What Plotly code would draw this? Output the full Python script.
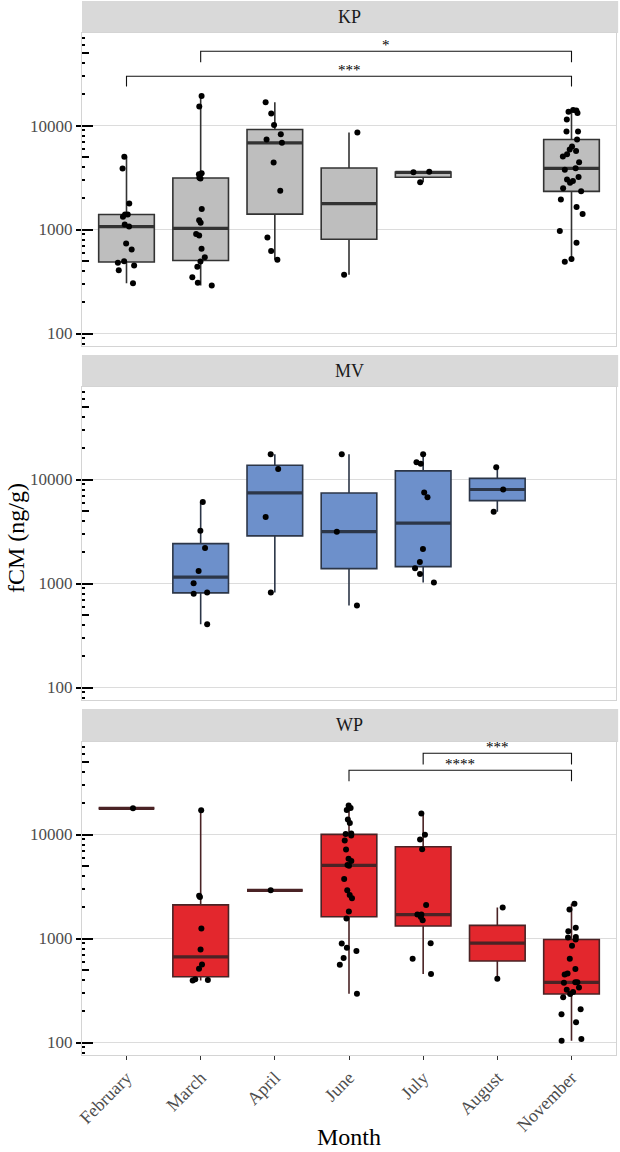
import numpy as np
import plotly.graph_objects as go

months = ["February", "March", "April", "June", "July", "August", "November"]
sites = ["KP", "MV", "WP"]

# ---- fCM (ng/g) values ----
kp_february = [5000, 3860, 1778, 1393, 1393, 1324, 1068, 1117, 733, 642, 495, 478, 451, 406, 305]
kp_march = [19300, 15250, 3475, 3400, 3140, 3100, 1580, 1230, 1160, 908, 875, 652, 542, 492, 438, 348, 308, 290]
kp_april = [16740, 13030, 10150, 8260, 7340, 6820, 4420, 2365, 838, 620, 512]
kp_june = [8580, 367]
kp_july = [3600, 3550, 2850]
kp_november = [14130, 13930, 13600, 13220, 11430, 8760, 8760, 7350, 6290, 5890, 5680, 5300, 5050, 4450,
               3875, 3760, 3200, 3035, 2925, 2820, 2500, 2330, 1940, 1650, 1413, 970, 745, 520, 490]

mv_march = [6070, 3220, 2198, 1322, 1007, 820, 796, 407]
mv_april = [17500, 12660, 4360, 820]
mv_june = [17500, 3150, 615]
mv_july = [17500, 14660, 14220, 7500, 6770, 2148, 1614, 1403, 1238, 1023]
mv_august = [13130, 8020, 4890]

wp_february = [17870]
wp_march = [17100, 2580, 2505, 1247, 785, 564, 512, 405, 400, 395]
wp_april = [2905]
wp_june = [18970, 18020, 17230, 13930, 12940, 10230, 10100, 9800, 8750, 7180, 5840, 5550, 5080, 5010,
           3735, 2905, 2623, 2440, 1816, 1560, 895, 814, 757, 649, 560, 295]
wp_july = [15900, 9930, 8960, 7220, 2103, 1699, 1699, 1613, 1500, 902, 638, 455]
wp_august = [1982, 410]
wp_november = [2163, 1896, 1266, 1175, 1037, 1022, 978, 851, 638, 508, 462, 452, 379, 379, 375, 339,
               322, 306, 293, 272, 209, 187, 157, 108, 104]

# significance brackets: (left month, right month, label, bar height, tip height)
kp_brackets = [("March", "November", "*", 51800, 40600),
               ("February", "November", "***", 29800, 23700)]
wp_brackets = [("July", "November", "***", 60500, 47100),
               ("June", "November", "****", 41500, 32500)]

groups = {
    "KP": {"February": kp_february, "March": kp_march, "April": kp_april, "June": kp_june,
           "July": kp_july, "November": kp_november},
    "MV": {"March": mv_march, "April": mv_april, "June": mv_june, "July": mv_july, "August": mv_august},
    "WP": {"February": wp_february, "March": wp_march, "April": wp_april, "June": wp_june,
           "July": wp_july, "August": wp_august, "November": wp_november},
}
brackets = {"KP": kp_brackets, "MV": [], "WP": wp_brackets}

fills = {"KP": "#BEBEBE", "MV": "#6D90CB", "WP": "#E3272D"}
edges = {"KP": "#333333", "MV": "#2C3648", "WP": "#4A2325"}

FONT = "Liberation Serif"
YR = [1.88, 4.89]
dom = {1: [0.6727, 0.9696], 2: [0.3368, 0.6338], 3: [0.0, 0.2970]}
strip = {1: [0.9696, 1.0], 2: [0.6338, 0.6641], 3: [0.2970, 0.3283]}
major_vals = [10, 100, 1000, 10000, 100000]
mid_vals = [5 * 10 ** e for e in range(1, 5)]
minor_vals = [k * 10 ** e for e in range(1, 5) for k in (2, 3, 4, 6, 7, 8, 9)]


def stats(vals):
    lv = np.log10(np.asarray(vals, dtype=float))
    q1, med, q3 = np.quantile(lv, [0.25, 0.5, 0.75])
    iqr = q3 - q1
    lo = lv[lv >= q1 - 1.5 * iqr].min()
    hi = lv[lv <= q3 + 1.5 * iqr].max()
    return [10 ** v for v in (q1, med, q3, lo, hi)]


fig = go.Figure()
layout = dict(width=620, height=1152, margin=dict(l=82, r=4, t=1, b=97),
              paper_bgcolor="white", plot_bgcolor="white", boxmode="overlay",
              showlegend=False, font=dict(family=FONT), shapes=[], annotations=[])

for r, site in enumerate(sites, start=1):
    xr = "x" if r == 1 else f"x{r}"
    yr = "y" if r == 1 else f"y{r}"
    yo = f"y{r + 3}"
    g = groups[site]
    ms = [m for m in months if m in g]
    st = [stats(g[m]) for m in ms]

    fig.add_trace(go.Box(
        x=ms, q1=[s[0] for s in st], median=[s[1] for s in st], q3=[s[2] for s in st],
        lowerfence=[s[3] for s in st], upperfence=[s[4] for s in st],
        width=0.75, whiskerwidth=0, boxpoints=False,
        fillcolor=fills[site], line=dict(color=edges[site], width=1.6),
        xaxis=xr, yaxis=yr, hoverinfo="skip"))
    fig.add_trace(go.Box(
        x=ms, q1=[s[1] for s in st], median=[s[1] for s in st], q3=[s[1] for s in st],
        lowerfence=[s[1] for s in st], upperfence=[s[1] for s in st],
        width=0.75, whiskerwidth=0, boxpoints=False,
        fillcolor="rgba(0,0,0,0)", line=dict(color=edges[site], width=3.2),
        xaxis=xr, yaxis=yr, hoverinfo="skip"))
    px, py = [], []
    for m in ms:
        px += [m] * len(g[m])
        py += list(g[m])
    fig.add_trace(go.Box(
        x=px, y=py, boxpoints="all", jitter=0.45, pointpos=0, width=0.75, whiskerwidth=0,
        fillcolor="rgba(0,0,0,0)", line=dict(width=0, color="rgba(0,0,0,0)"),
        marker=dict(color="black", size=6, line=dict(width=0)),
        xaxis=xr, yaxis=yr))

    for (a, b, lab, top, tip) in brackets[site]:
        fig.add_trace(go.Scatter(x=[a, a, b, b], y=[tip, top, top, tip], mode="lines",
                                 line=dict(color="#111111", width=1.1), xaxis=xr, yaxis=yr,
                                 hoverinfo="skip"))
        xm = (months.index(a) + months.index(b)) / 2
        layout["annotations"].append(dict(x=xm, y=np.log10(top), xref=xr, yref=yr, text=lab,
                                          showarrow=False, yanchor="bottom", xanchor="center",
                                          yshift=-4,
                                          font=dict(size=15, color="black", family=FONT)))

    fig.add_trace(go.Scatter(x=[None], y=[None], xaxis=xr, yaxis=yo, hoverinfo="skip"))

    layout["xaxis" if r == 1 else f"xaxis{r}"] = dict(
        domain=[0, 1], anchor=yr, type="category", categoryorder="array", categoryarray=months,
        range=[-0.6, 6.6], showgrid=False, zeroline=False,
        showline=True, linecolor="#d4d4d4", linewidth=1.2, mirror=True,
        ticks="outside" if r == 3 else "", ticklen=4, tickwidth=1.2, tickcolor="#333333",
        showticklabels=(r == 3), tickangle=-45,
        tickfont=dict(size=18, color="#4d4d4d", family=FONT))
    layout["yaxis" if r == 1 else f"yaxis{r}"] = dict(
        domain=dom[r], anchor=xr, type="log", range=YR,
        tickmode="array", tickvals=major_vals, ticktext=[str(v) for v in major_vals],
        ticks="outside", ticklen=5, tickwidth=1.5, tickcolor="black",
        tickfont=dict(size=17, color="#4d4d4d", family=FONT),
        showgrid=True, gridcolor="#dcdcdc", gridwidth=1.3, zeroline=False,
        showline=True, linecolor="#d4d4d4", linewidth=1.2, mirror=True,
        minor=dict(tickmode="array", tickvals=minor_vals, ticks="inside", ticklen=3,
                   tickwidth=1.5, tickcolor="black", showgrid=False))
    layout[f"yaxis{r + 3}"] = dict(
        overlaying=yr, anchor=xr, side="left", type="log", range=YR,
        tickmode="array", tickvals=major_vals, ticks="inside", ticklen=11, tickwidth=1.5,
        tickcolor="black", showticklabels=False, showgrid=False, showline=False, zeroline=False,
        minor=dict(tickmode="array", tickvals=mid_vals, ticks="inside", ticklen=7,
                   tickwidth=1.5, tickcolor="black", showgrid=False))

    layout["shapes"].append(dict(type="rect", xref="paper", yref="paper", x0=0, x1=1.004,
                                 y0=strip[r][0], y1=strip[r][1], fillcolor="#d9d9d9",
                                 line=dict(width=0), layer="below"))
    layout["annotations"].append(dict(x=0.5, y=(strip[r][0] + strip[r][1]) / 2, xref="paper",
                                      yref="paper", text=site, showarrow=False,
                                      xanchor="center", yanchor="middle",
                                      font=dict(size=18, color="#1a1a1a", family=FONT)))

layout["annotations"].append(dict(x=-0.1236, y=0.4905, xref="paper", yref="paper",
                                  text="fCM (ng/g)", textangle=-90, showarrow=False,
                                  xanchor="center", yanchor="middle",
                                  font=dict(size=24, color="black", family=FONT)))
layout["annotations"].append(dict(x=0.5, y=-0.0775, xref="paper", yref="paper", text="Month",
                                  showarrow=False, yanchor="middle", xanchor="center",
                                  font=dict(size=24, color="black", family=FONT)))

fig.update_layout(**layout)
fig.write_html("out.html", config={"displayModeBar": False},
               post_script="document.body.style.margin='0px';document.body.style.padding='0px';")
